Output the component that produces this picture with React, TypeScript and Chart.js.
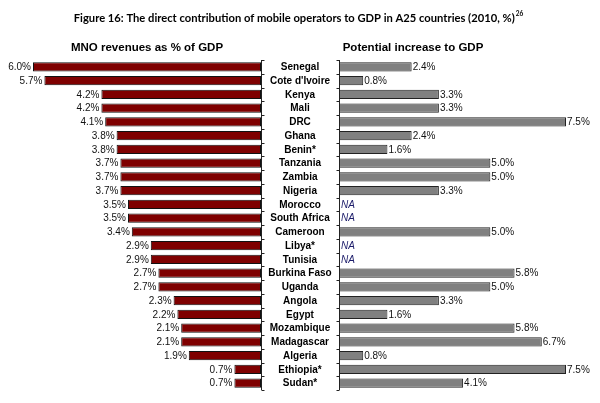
import { useEffect, useRef } from "react";
import { Chart, registerables } from "chart.js";
Chart.register(...registerables);

const countries = [
  "Senegal", "Cote d'Ivoire", "Kenya", "Mali", "DRC", "Ghana", "Benin*", "Tanzania",
  "Zambia", "Nigeria", "Morocco", "South Africa", "Cameroon", "Libya*", "Tunisia",
  "Burkina Faso", "Uganda", "Angola", "Egypt", "Mozambique", "Madagascar", "Algeria",
  "Ethiopia*", "Sudan*",
];
const mnoRevenue = [
  6.0, 5.7, 4.2, 4.2, 4.1, 3.8, 3.8, 3.7, 3.7, 3.7, 3.5, 3.5, 3.4, 2.9, 2.9, 2.7, 2.7,
  2.3, 2.2, 2.1, 2.1, 1.9, 0.7, 0.7,
];
const potentialIncrease: (number | null)[] = [
  2.4, 0.8, 3.3, 3.3, 7.5, 2.4, 1.6, 5.0, 5.0, 3.3, null, null, 5.0, null, null, 5.8,
  5.0, 3.3, 1.6, 5.8, 6.7, 0.8, 7.5, 4.1,
];

const TITLE = "Figure 16: The direct contribution of mobile operators to GDP in A25 countries (2010, %)";
const TITLE_SUP = "26";
const LEFT_TITLE = "MNO revenues as % of GDP";
const RIGHT_TITLE = "Potential increase to GDP";
const NA_LABEL = "NA";

const VALUE_FONT = "10px 'Liberation Sans', Arial, sans-serif";
const CAT_FONT = "bold 10px 'Liberation Sans', Arial, sans-serif";
const SUB_FONT = "bold 11.5px 'Liberation Sans', Arial, sans-serif";
const TITLE_FONT = "bold 11.2px Lato, 'Liberation Sans', sans-serif";
const SUP_FONT = "bold 6.5px Lato, sans-serif";

function drawAxis(chart: any, dir: number) {
  const ctx = chart.ctx;
  const xs = chart.scales.x;
  const x0 = Math.round(xs.getPixelForValue(0)) + 0.5;
  const { top, bottom } = chart.chartArea;
  ctx.save();
  ctx.strokeStyle = "#222";
  ctx.lineWidth = 1;
  ctx.beginPath();
  ctx.moveTo(x0, top);
  ctx.lineTo(x0, bottom);
  const n = chart.data.labels.length;
  const step = (bottom - top) / n;
  for (let i = 0; i <= n; i++) {
    const y = Math.round(top + i * step) + 0.5;
    ctx.moveTo(x0, y);
    ctx.lineTo(x0 + dir * 3, y);
  }
  ctx.stroke();
  ctx.restore();
}

const leftPlugin = {
  id: "leftDecor",
  afterDraw(chart: any) {
    const ctx = chart.ctx;
    const ys = chart.scales.y;
    const meta = chart.getDatasetMeta(0);
    ctx.save();
    // main title
    ctx.font = TITLE_FONT;
    ctx.fillStyle = "#000";
    ctx.textBaseline = "middle";
    const w = ctx.measureText(TITLE).width;
    ctx.font = SUP_FONT;
    const ws = ctx.measureText(TITLE_SUP).width;
    const startX = 298.5 - (w + ws + 1) / 2;
    ctx.font = TITLE_FONT;
    ctx.textAlign = "left";
    ctx.fillText(TITLE, startX, 18.5);
    ctx.font = SUP_FONT;
    ctx.fillText(TITLE_SUP, startX + w + 1, 13.5);
    // subtitle
    ctx.font = SUB_FONT;
    ctx.textAlign = "center";
    ctx.fillText(LEFT_TITLE, (chart.chartArea.left + chart.chartArea.right) / 2, 48);
    // value labels
    ctx.font = VALUE_FONT;
    ctx.fillStyle = "#111";
    ctx.textAlign = "right";
    meta.data.forEach((bar: any, i: number) => {
      const v = chart.data.datasets[0].data[i];
      ctx.fillText(v.toFixed(1) + "%", bar.x - 2, bar.y + 0.5);
    });
    // category labels
    ctx.font = CAT_FONT;
    ctx.fillStyle = "#000";
    ctx.textAlign = "center";
    chart.data.labels.forEach((lab: string, i: number) => {
      ctx.fillText(lab, 300, ys.getPixelForValue(i) + 0.5);
    });
    ctx.restore();
    drawAxis(chart, 1);
  },
};

const rightPlugin = {
  id: "rightDecor",
  afterDraw(chart: any) {
    const ctx = chart.ctx;
    const ys = chart.scales.y;
    const xs = chart.scales.x;
    const meta = chart.getDatasetMeta(0);
    ctx.save();
    ctx.textBaseline = "middle";
    ctx.font = SUB_FONT;
    ctx.fillStyle = "#000";
    ctx.textAlign = "center";
    ctx.fillText(RIGHT_TITLE, 413, 48);
    ctx.textAlign = "left";
    chart.data.datasets[0].data.forEach((v: number | null, i: number) => {
      const y = ys.getPixelForValue(i) + 0.5;
      if (v === null) {
        ctx.font = "italic " + VALUE_FONT;
        ctx.fillStyle = "#1c1c6a";
        ctx.fillText(NA_LABEL, xs.getPixelForValue(0) + 2, y);
      } else {
        ctx.font = VALUE_FONT;
        ctx.fillStyle = "#111";
        ctx.fillText(v.toFixed(1) + "%", meta.data[i].x + 1, y);
      }
    });
    ctx.restore();
    drawAxis(chart, -1);
  },
};

export default function App() {
  const leftRef = useRef<HTMLCanvasElement>(null);
  const rightRef = useRef<HTMLCanvasElement>(null);

  useEffect(() => {
    const common = (padding: any, max: number, reverse: boolean) => ({
      indexAxis: "y" as const,
      responsive: false,
      animation: false as const,
      layout: { padding },
      plugins: { legend: { display: false }, tooltip: { enabled: false }, title: { display: false } },
      scales: {
        x: { type: "linear" as const, min: 0, max, reverse, display: false },
        y: { type: "category" as const, display: false, offset: true },
      },
    });
    const left = new Chart(leftRef.current!, {
      type: "bar",
      data: {
        labels: countries,
        datasets: [
          {
            data: mnoRevenue,
            backgroundColor: "#7f0000",
            borderColor: "#111",
            borderWidth: 1,
            borderSkipped: false,
            categoryPercentage: 1,
            barPercentage: 0.66,
          },
        ],
      },
      options: common({ left: 33, right: 339, top: 60, bottom: 13 }, 6.0, true) as any,
      plugins: [leftPlugin],
    });
    const right = new Chart(rightRef.current!, {
      type: "bar",
      data: {
        labels: countries,
        datasets: [
          {
            data: potentialIncrease,
            backgroundColor: "#808080",
            borderColor: "#222",
            borderWidth: 1,
            borderSkipped: false,
            categoryPercentage: 1,
            barPercentage: 0.66,
          },
        ],
      },
      options: common({ left: 339, right: 34, top: 60, bottom: 13 }, 7.5, false) as any,
      plugins: [rightPlugin],
    });
    return () => {
      left.destroy();
      right.destroy();
    };
  }, []);

  return (
    <div style={{ position: "absolute", left: 0, top: 0, width: 600, height: 403, background: "#fff" }}>
      <canvas ref={leftRef} width={600} height={403} style={{ position: "absolute", left: 0, top: 0 }} />
      <canvas ref={rightRef} width={600} height={403} style={{ position: "absolute", left: 0, top: 0 }} />
    </div>
  );
}
